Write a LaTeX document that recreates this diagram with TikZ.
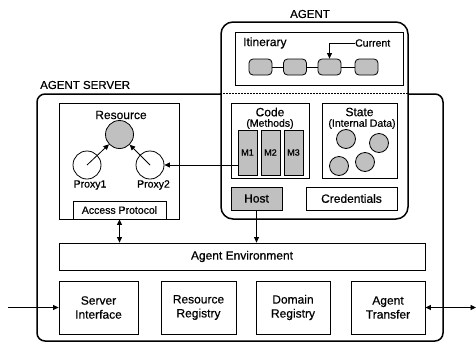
\documentclass[tikz,border=0pt]{standalone}
\usepackage{fontspec}
\setmainfont{Liberation Sans}[FakeBold=0.6]
\usetikzlibrary{arrows.meta}
\definecolor{fillg}{RGB}{192,192,192}
\begin{document}
\begin{tikzpicture}[x=1pt,y=-1pt,
  box/.style={draw, line width=0.8pt, inner sep=0pt, align=center, font=\fontsize{12}{14}\selectfont},
  outerbox/.style={draw, line width=1.5pt, inner sep=0pt},
  stop/.style={draw, fill=fillg, line width=0.8pt, rounded corners=4pt, minimum width=23pt, minimum height=16pt, inner sep=0pt},
  meth/.style={box, fill=fillg, minimum width=19pt, minimum height=45pt, font=\fontsize{9}{10}\selectfont},
  dot/.style={draw, fill=fillg, circle, line width=0.8pt, minimum size=19pt, inner sep=0pt},
  lbl/.style={inner sep=0pt, font=\fontsize{12}{14}\selectfont},
  small/.style={inner sep=0pt, font=\fontsize{10.5}{12}\selectfont},
  big/.style={inner sep=0pt, font=\fontsize{11.5}{13}\selectfont},
  arr/.style={-{Triangle[length=5.5pt,width=5pt]}, line width=0.8pt},
  darr/.style={{Triangle[length=5.5pt,width=5pt]}-{Triangle[length=5.5pt,width=5pt]}, line width=0.8pt}]
\useasboundingbox (0,0) rectangle (476,343);
% server
\node[outerbox, minimum width=406pt, minimum height=247pt, rounded corners=8pt] (server) at (240,217.5) {};
\node[big, anchor=west] (serverlbl) at (40,85) {AGENT SERVER};
% agent
\node[outerbox, fill=white, minimum width=187pt, minimum height=197pt, rounded corners=12pt] (agent) at (314.5,120.5) {};
\node[big] (agentlbl) at (310,14) {AGENT};
\draw[line width=0.6pt, dash pattern=on 2pt off 1pt] (agent.west |- server.north) -- (agent.east |- server.north);
% itinerary
\node[box, minimum width=168pt, minimum height=53pt] (itin) at (319,58.5) {};
\node[lbl, anchor=west] (itinlbl) at (243,43) {Itinerary};
\node[stop] (s1) at (260.5,67) {};
\node[stop] (s2) at (295,67) {};
\node[stop] (s3) at (329.5,67) {};
\node[stop] (s4) at (366.5,67) {};
\draw[line width=0.8pt] (s1) -- (s2) -- (s3) -- (s4);
\node[small, anchor=west] (cur) at (355,43) {Current};
\draw[arr] (cur.west) -| (s3.north);
% code
\node[box, minimum width=78pt, minimum height=75pt] (code) at (270,140.5) {};
\node[lbl] (codelbl) at (270,112) {Code};
\node[small] (methlbl) at (270,124) {(Methods)};
\node[meth] (m1) at (247.5,152.5) {M1};
\node[meth] (m2) at (270.5,152.5) {M2};
\node[meth] (m3) at (293.5,152.5) {M3};
% state
\node[box, minimum width=75pt, minimum height=75pt] (state) at (359.5,140.5) {};
\node[lbl] (statelbl) at (359.5,112) {State};
\node[small] (intlbl) at (362,124) {(Internal Data)};
\node[dot] (d1) at (346,139) {};
\node[dot] (d2) at (379,143) {};
\node[dot] (d3) at (339,166) {};
\node[dot] (d4) at (365,162) {};
% host, credentials
\node[box, fill=fillg, minimum width=51pt, minimum height=23pt] (host) at (256.5,198.5) {Host};
\node[box, minimum width=91pt, minimum height=23pt] (cred) at (351.5,198.5) {Credentials};
% resource
\node[box, minimum width=120pt, minimum height=116pt] (resbox) at (119,161) {};
\node[lbl] (reslbl) at (121,115) {Resource};
\node[dot, minimum size=28pt] (res) at (119.5,134.5) {};
\node[draw, circle, line width=0.8pt, minimum size=28pt, inner sep=0pt] (p1) at (87,165) {};
\node[draw, circle, line width=0.8pt, minimum size=28pt, inner sep=0pt] (p2) at (150,165) {};
\node[small] (p1lbl) at (90,185) {Proxy1};
\node[small] (p2lbl) at (153.5,185) {Proxy2};
\node[box, minimum width=93pt, minimum height=18pt, font=\fontsize{10.5}{12}\selectfont] (ap) at (119.5,210) {Access Protocol};
\draw[arr] (p1.center) -- (res);
\draw[arr] (p2.center) -- (res);
\draw[arr] (m1.west |- p2.center) -- (p2.east);
% environment
\node[box, minimum width=366pt, minimum height=27pt] (env) at (242,256.5) {Agent Environment};
\draw[arr] (host.south) -- (host.south |- env.north);
\draw[darr] (ap.south) -- (ap.south |- env.north);
% bottom row
\node[box, minimum width=79pt, minimum height=53pt] (si) at (98.5,307.5) {Server\\Interface};
\node[box, minimum width=75pt, minimum height=53pt] (rr) at (198.5,307.5) {Resource\\Registry};
\node[box, minimum width=74pt, minimum height=53pt] (dr) at (293,307.5) {Domain\\Registry};
\node[box, minimum width=74pt, minimum height=53pt] (at) at (388,307.5) {Agent\\Transfer};
\coordinate (inl) at (8,307.5);
\coordinate (outr) at (476,307.5);
\draw[arr] (inl) -- (si.west);
\draw[darr] (at.east) -- (outr);
\end{tikzpicture}
\end{document}
